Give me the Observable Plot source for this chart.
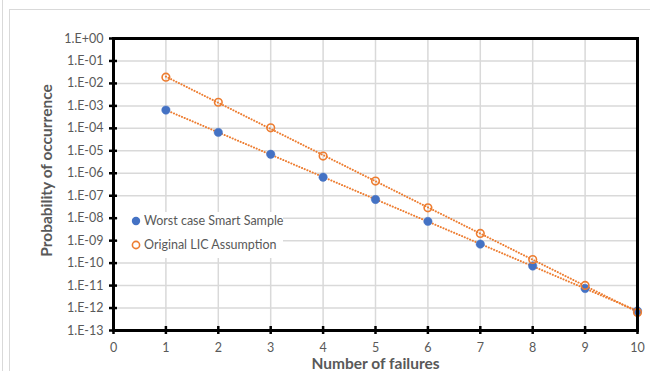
<!DOCTYPE html>
<html>
<head>
<meta charset="utf-8">
<script src="https://cdn.jsdelivr.net/npm/d3@7"></script>
<script src="https://cdn.jsdelivr.net/npm/@observablehq/plot@0.6"></script>
<style>
  html, body { margin: 0; padding: 0; background: #fff; }
  #wrap { position: relative; width: 650px; height: 371px; overflow: hidden; font-family: Lato, "Open Sans", sans-serif; }
  #wrap > svg { position: absolute; left: 0; top: 0; }
  .edge { position: absolute; background: #d9d9d9; }
  #legend { position: absolute; left: 118px; top: 212px; width: 165px; height: 46px; background: #fff; color: #595959; font-size: 12.5px; }
  #legend .item { position: absolute; left: 13px; display: flex; align-items: center; white-space: nowrap; }
  #legend svg { position: static; margin-right: 3px; }
</style>
</head>
<body>
<div id="wrap"></div>
<script>
const failures = [1, 2, 3, 4, 5, 6, 7, 8, 9, 10];
const worstCase = [6.5e-4, 6.6e-5, 7.0e-6, 6.7e-7, 6.8e-8, 7.2e-9, 7.0e-10, 7.4e-11, 7.4e-12, 7.4e-13];
const originalLIC = [1.9e-2, 1.45e-3, 1.05e-4, 5.8e-6, 4.5e-7, 2.9e-8, 2.1e-9, 1.45e-10, 1.02e-11, 6.4e-13];
const seriesNames = ["Worst case Smart Sample", "Original LIC Assumption"];
const yTickExponents = [0, -1, -2, -3, -4, -5, -6, -7, -8, -9, -10, -11, -12, -13];
const xTicks = [0, 1, 2, 3, 4, 5, 6, 7, 8, 9, 10];

const blue = "#4472C4", orange = "#ED7D31", grey = "#595959", gridCol = "#d9d9d9";
const yTicks = yTickExponents.map(e => Math.pow(10, e));
const fmt = d => {
  const e = Math.round(Math.log10(d));
  return "1.E" + (e >= 0 ? "+" : "-") + String(Math.abs(e)).padStart(2, "0");
};

const worstData = failures.map((x, i) => ({x, y: worstCase[i]}));
const licData = failures.map((x, i) => ({x, y: originalLIC[i]}));

// exponential (log-linear) least-squares trendline, as in the spreadsheet
function trend(data) {
  const xs = data.map(d => d.x), ls = data.map(d => Math.log10(d.y));
  const mx = d3.mean(xs), ml = d3.mean(ls);
  const b = d3.sum(xs, (x, i) => (x - mx) * (ls[i] - ml)) / d3.sum(xs, x => (x - mx) ** 2);
  const a = ml - b * mx;
  const ext = d3.extent(xs);
  return ext.map(x => ({x, y: Math.pow(10, a + b * x)}));
}

const chart = Plot.plot({
  width: 650,
  height: 371,
  marginLeft: 113,
  marginRight: 13,
  marginTop: 38,
  marginBottom: 41,
  style: {fontFamily: "Lato, 'Open Sans', sans-serif", background: "transparent"},
  x: {domain: [0, 10], ticks: xTicks},
  y: {type: "log", domain: [1e-13, 1], ticks: yTicks},
  marks: [
    Plot.gridY(yTicks, {stroke: gridCol, strokeOpacity: 1, strokeWidth: 1.5}),
    Plot.gridX(xTicks, {stroke: gridCol, strokeOpacity: 1, strokeWidth: 1.5}),
    Plot.axisY(yTicks, {tickSize: 0, tickPadding: 10, tickFormat: fmt, label: null, fontSize: 12.5, fill: grey}),
    Plot.axisX(xTicks, {tickSize: 0, tickPadding: 13, label: null, fontSize: 12.5, fill: grey}),
    Plot.axisY(yTicks, {tickSize: 8, dx: 4, tickFormat: () => "", label: null, stroke: "black", strokeWidth: 2.5}),
    Plot.axisX(xTicks, {tickSize: 8, dy: -4, tickFormat: () => "", label: null, stroke: "black", strokeWidth: 2.5}),
    Plot.line(trend(worstData), {x: "x", y: "y", stroke: orange, strokeWidth: 2, strokeDasharray: "0.1,2.8", strokeLinecap: "round"}),
    Plot.line(trend(licData), {x: "x", y: "y", stroke: orange, strokeWidth: 2, strokeDasharray: "0.1,2.8", strokeLinecap: "round"}),
    Plot.dot(worstData, {x: "x", y: "y", r: 4.2, fill: blue, stroke: blue, strokeWidth: 0.5}),
    Plot.dot(licData, {x: "x", y: "y", r: 3.8, fill: "none", stroke: orange, strokeWidth: 1.6}),
    Plot.frame({stroke: "black", strokeWidth: 3}),
    Plot.text(["Probability of occurrence"], {frameAnchor: "left", textAnchor: "middle", lineAnchor: "middle", dx: -66, dy: -14, rotate: -90, fontSize: 15.5, fontWeight: "bold", fill: grey}),
    Plot.text(["Number of failures"], {frameAnchor: "bottom", textAnchor: "middle", lineAnchor: "middle", dy: 34, fontSize: 15.5, fontWeight: "bold", fill: grey})
  ]
});

const wrap = document.getElementById("wrap");
wrap.appendChild(chart);
// outer chart borders (decoration)
[["2px", "0px", "1px", "371px"], ["9px", "9px", "1px", "362px"], ["9px", "9px", "641px", "1px"]].forEach(([l, t, w, h]) => {
  const e = document.createElement("div");
  e.className = "edge";
  Object.assign(e.style, {left: l, top: t, width: w, height: h});
  wrap.appendChild(e);
});
// legend
const legend = document.createElement("div");
legend.id = "legend";
const sw = [
  `<svg width="10" height="10"><circle cx="5" cy="5" r="4.2" fill="${blue}"/></svg>`,
  `<svg width="10" height="10"><circle cx="5" cy="5" r="3.6" fill="none" stroke="${orange}" stroke-width="1.6"/></svg>`
];
seriesNames.forEach((name, i) => {
  const it = document.createElement("div");
  it.className = "item";
  it.style.top = (i === 0 ? 1 : 25) + "px";
  it.innerHTML = sw[i] + `<span>${name}</span>`;
  legend.appendChild(it);
});
wrap.appendChild(legend);
</script>
</body>
</html>
